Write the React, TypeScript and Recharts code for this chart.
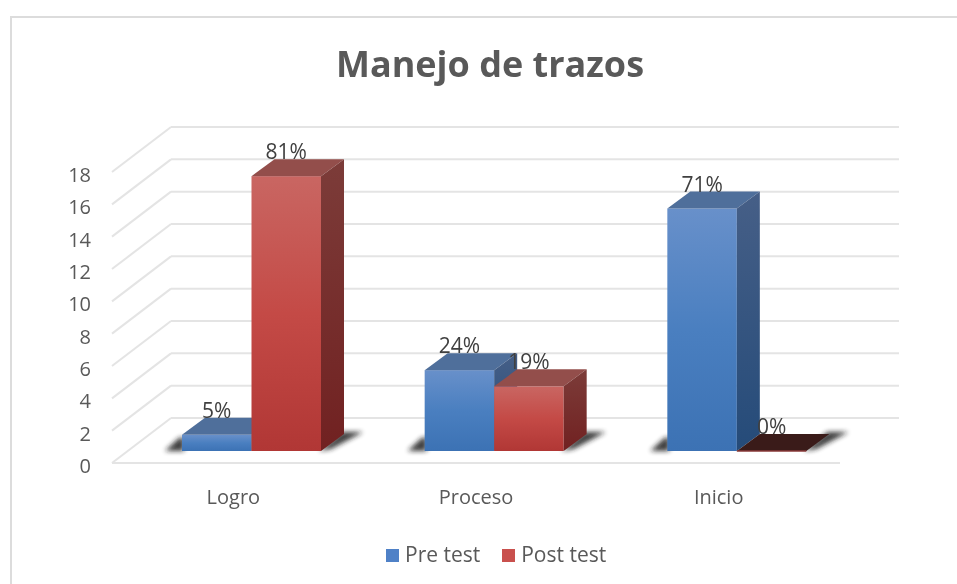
import { BarChart, Bar, XAxis, YAxis, CartesianGrid, Legend } from 'recharts';

const categories = ['Logro', 'Proceso', 'Inicio'];
const preTest = [1, 5, 15];
const postTest = [17, 4, 0];
const preLabels = ['5%', '24%', '71%'];
const postLabels = ['81%', '19%', '0%'];
const yTicks = [0, 2, 4, 6, 8, 10, 12, 14, 16, 18];

const chartData = categories.map((name, i) => ({
  name,
  pre: preTest[i],
  post: postTest[i],
  preLabel: preLabels[i],
  postLabel: postLabels[i],
}));

// fake 3D: front face sits this far from the scale position
const LIFT = 12;
const SHIFT = 18;
const DX = 23;
const DY = 17;
// side wall of the box
const WALL_DX = 59;
const WALL_DY = 45;
const FLOOR_Y = 463;
const GRID = '#e4e4e4';

const pts = (list: number[][]) => list.map((p) => p.join(',')).join(' ');

function GridLine(props: any) {
  const { x1, x2, y1 } = props;
  const isFloor = Math.abs(y1 - FLOOR_Y) < 2;
  return (
    <g>
      <line x1={x1} y1={y1} x2={x1 + WALL_DX} y2={y1 - WALL_DY} stroke={GRID} strokeWidth={2} />
      <line x1={x1 + WALL_DX} y1={y1 - WALL_DY} x2={x2 + WALL_DX} y2={y1 - WALL_DY} stroke={GRID} strokeWidth={2} />
      {isFloor && <line x1={x1} y1={y1} x2={x2} y2={y1} stroke={GRID} strokeWidth={2} />}
    </g>
  );
}

function Bar3D(props: any) {
  const { x, y, width, height, kind, payload } = props;
  const left = x + SHIFT;
  const right = left + width;
  const top = y - LIFT;
  const base = y + height - LIFT;
  const isZero = height < 1;
  const shadow =
    kind === 'pre'
      ? [[left - 17, base], [left + 2, base], [left + 2, base - 14], [left - 3, base - 13]]
      : [[right - 2, base], [right + 10, base - 2], [right + DX + 19, base - DY - 2], [right + DX - 2, base - DY - 2]];
  return (
    <g>
      <polygon points={pts(shadow)} fill="#1c1c1c" opacity={0.85} filter="url(#shadowBlur)" />
      {isZero ? (
        <>
          <polygon
            points={pts([[left, base], [right, base], [right + DX, base - DY], [left + DX, base - DY]])}
            fill="#3a1b19"
          />
          <line x1={left} y1={base} x2={right} y2={base} stroke="#8a3a38" strokeWidth={1.5} />
        </>
      ) : (
        <>
          <rect x={left} y={top} width={width} height={height} fill={`url(#front-${kind})`} />
          <polygon
            points={pts([[left, top], [right, top], [right + DX, top - DY], [left + DX, top - DY]])}
            fill={kind === 'pre' ? '#4f6f9b' : '#934e4b'}
          />
          <polygon
            points={pts([[right, top], [right + DX, top - DY], [right + DX, base - DY], [right, base]])}
            fill={`url(#side-${kind})`}
          />
        </>
      )}
      <text x={left + width / 2} y={y - 29} textAnchor="middle" fontSize={21} fill="#404040">
        {payload[`${kind}Label`]}
      </text>
    </g>
  );
}

function LegendRow({ payload }: any) {
  return (
    <div style={{ display: 'flex', alignItems: 'center', height: 26, fontSize: 21, color: '#595959' }}>
      {(payload || []).map((entry: any) => (
        <div key={entry.value} style={{ display: 'flex', alignItems: 'center', marginRight: 22 }}>
          <span style={{ width: 13, height: 13, background: entry.color, marginRight: 6, marginTop: 2 }} />
          <span>{entry.value}</span>
        </div>
      ))}
    </div>
  );
}

export default function App() {
  return (
    <div style={{ position: 'absolute', left: 0, top: 0, width: 957, height: 584, background: '#fff', overflow: 'hidden', filter: 'blur(0.5px)' }}>
      <div style={{ position: 'absolute', left: 10, top: 16, width: 960, height: 600, border: '2px solid #dcdcdc', boxSizing: 'border-box' }} />
      <BarChart
        width={957}
        height={584}
        data={chartData}
        margin={{ top: 172, right: 117, bottom: 35, left: 52 }}
        barSize={69.5}
        barGap={0}
        style={{ fontFamily: '"Open Sans", sans-serif', position: 'absolute' }}
      >
        <defs>
          <linearGradient id="front-pre" x1="0" y1="0" x2="0" y2="1">
            <stop offset="0%" stopColor="#6890ca" />
            <stop offset="50%" stopColor="#4a7fc0" />
            <stop offset="100%" stopColor="#3c72b4" />
          </linearGradient>
          <linearGradient id="front-post" x1="0" y1="0" x2="0" y2="1">
            <stop offset="0%" stopColor="#c96662" />
            <stop offset="50%" stopColor="#c44a46" />
            <stop offset="100%" stopColor="#b13735" />
          </linearGradient>
          <linearGradient id="side-pre" x1="0" y1="0" x2="0" y2="1">
            <stop offset="0%" stopColor="#465f87" />
            <stop offset="100%" stopColor="#254b79" />
          </linearGradient>
          <linearGradient id="side-post" x1="0" y1="0" x2="0" y2="1">
            <stop offset="0%" stopColor="#7c3c39" />
            <stop offset="100%" stopColor="#712121" />
          </linearGradient>
          <filter id="shadowBlur" x="-50%" y="-50%" width="200%" height="200%">
            <feGaussianBlur stdDeviation="2.5" />
          </filter>
        </defs>
        <text x={490} y={77} textAnchor="middle" fontSize={36} fontWeight={700} fill="#595959">
          Manejo de trazos
        </text>
        <CartesianGrid vertical={false} horizontal={(p: any) => <GridLine key={p.key} {...p} />} />
        <XAxis
          dataKey="name"
          axisLine={false}
          tickLine={false}
          tickSize={0}
          tickMargin={27}
          height={60}
          tick={{ fill: '#595959', fontSize: 20 }}
        />
        <YAxis
          domain={[0, 18]}
          ticks={yTicks}
          interval={0}
          width={60}
          axisLine={false}
          tickLine={false}
          tickSize={0}
          tickMargin={21}
          tick={{ fill: '#595959', fontSize: 20, dy: 3 }}
        />
        <Legend
          itemSorter={null}
          wrapperStyle={{ left: 386, width: 320, bottom: 17 }}
          content={(p: any) => <LegendRow {...p} />}
        />
        <Bar dataKey="pre" name="Pre test" fill="#4f81c7" isAnimationActive={false} shape={(p: any) => <Bar3D {...p} kind="pre" />} />
        <Bar dataKey="post" name="Post test" fill="#c9504d" isAnimationActive={false} shape={(p: any) => <Bar3D {...p} kind="post" />} />
      </BarChart>
    </div>
  );
}
